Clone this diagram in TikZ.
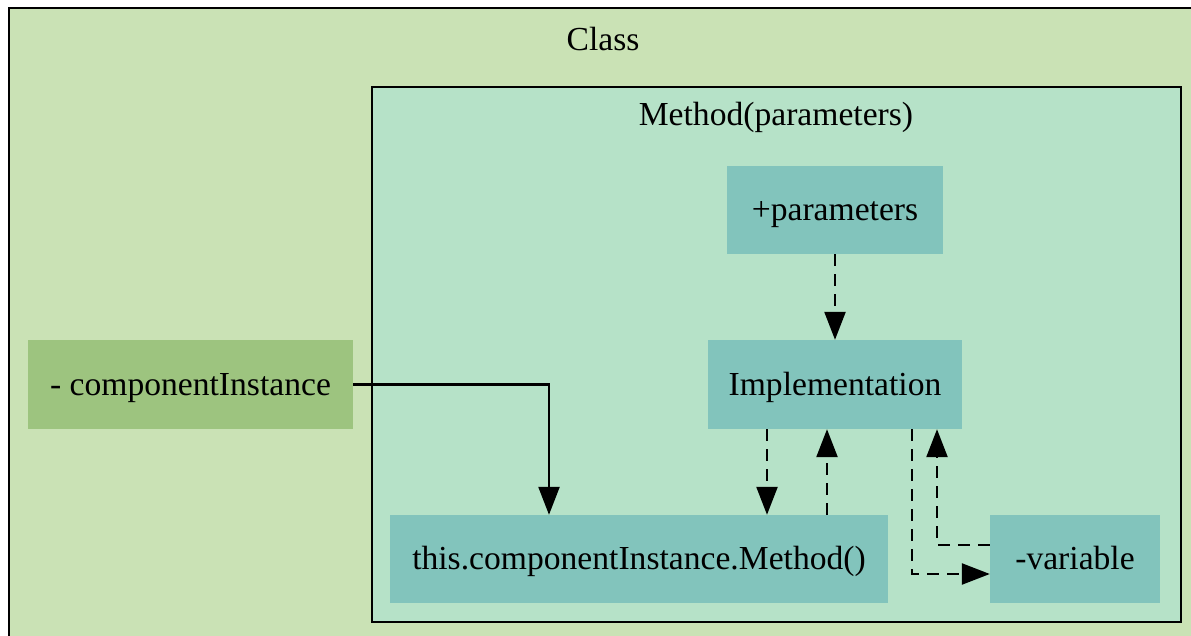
\documentclass[tikz,border=0pt]{standalone}
\usepackage{fontspec}
\setmainfont{Liberation Serif}
\usetikzlibrary{arrows.meta}
\definecolor{classfill}{RGB}{202,226,181}
\definecolor{methodfill}{RGB}{182,226,200}
\definecolor{tealbox}{RGB}{130,196,188}
\definecolor{greenbox}{RGB}{157,196,127}
\tikzset{
  lbl/.style={font=\fontsize{33.6}{40}\selectfont, text=black},
  box/.style={lbl, fill=tealbox, draw=none, inner sep=0pt, minimum height=88pt,
    text height=25pt, text depth=4pt},
  frame/.style={draw=black, line width=2.5pt},
  link/.style={draw=black, line width=2.4pt, -{Triangle[length=28pt,width=21pt]}},
  dlink/.style={link, dash pattern=on 12pt off 8pt}
}
\begin{document}
\begin{tikzpicture}[x=1pt,y=-1pt]
  \useasboundingbox (0,0) rectangle (1191,636);
  \fill[white] (0,0) rectangle (1191,636);
  % outer cluster
  \begin{scope}
    \clip (0,0) rectangle (1191,636);
    \draw[frame, fill=classfill] (9,8) rectangle (1205,650);
  \end{scope}
  \node[lbl] (classlbl) at (603,39) {Class};
  % method cluster
  \draw[frame, fill=methodfill] (372,87) rectangle (1181,622);
  \node[lbl] (methlbl) at (776,117) {Method(parameters)};
  % nodes
  \node[box, minimum width=216pt] (par) at (835,210) {+parameters};
  \node[box, minimum width=254pt, minimum height=89pt] (impl) at (835,384.5) {Implementation};
  \node[box, minimum width=498pt] (meth) at (639,559) {this.componentInstance.Method()};
  \node[box, minimum width=170pt] (var) at (1075,559) {-variable};
  \node[box, fill=greenbox, minimum width=325pt, minimum height=89pt] (ci) at (190.5,384.5) {- componentInstance};
  % connectors
  \draw[link] (ci.east) -| ([xshift=-90pt]meth.north);
  \draw[dlink] (par.south) -- (impl.north);
  \draw[dlink] ([xshift=-68pt]impl.south) -- ([xshift=128pt]meth.north);
  \draw[dlink] ([xshift=188pt]meth.north) -- ([xshift=-8pt]impl.south);
  \draw[dlink] ([xshift=77pt]impl.south) |- ([yshift=-15pt]var.west);
  \draw[dlink] ([yshift=14pt]var.west) -| ([xshift=102pt]impl.south);
\end{tikzpicture}
\end{document}
